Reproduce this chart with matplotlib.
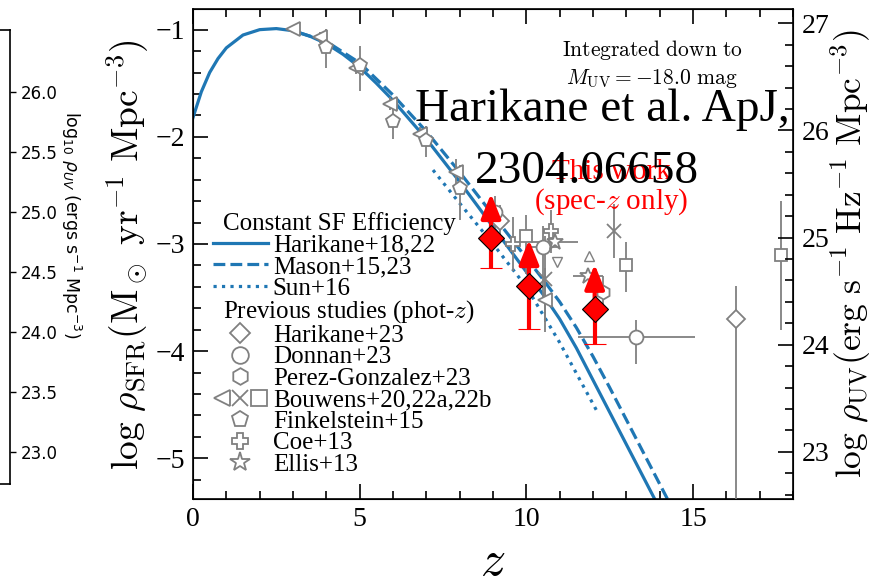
import numpy as np
import matplotlib
matplotlib.use("Agg")
import matplotlib.pyplot as plt
from matplotlib.lines import Line2D
from matplotlib.legend_handler import HandlerTuple

plt.rcParams['font.family'] = ['Liberation Serif', 'DejaVu Serif']
plt.rcParams['mathtext.fontset'] = 'cm'

# constant SF efficiency models
z_har = [0, 0.25, 0.5, 0.75, 1, 1.5, 2, 2.5, 3, 3.5, 4, 4.5, 5, 5.5, 6, 6.5, 7, 7.5,
         8, 8.5, 9, 9.5, 10, 10.5, 11, 11.5, 12, 12.5, 13, 13.5, 14]
sfr_har = [-1.82, -1.58, -1.40, -1.27, -1.17, -1.05, -1.00, -0.99, -1.01, -1.06, -1.13,
           -1.23, -1.35, -1.50, -1.66, -1.84, -2.02, -2.22, -2.42, -2.63, -2.84, -3.05,
           -3.26, -3.47, -3.70, -3.97, -4.27, -4.57, -4.87, -5.17, -5.47]
z_mas = [3.2, 4, 5, 6, 7, 8, 9, 10, 10.5, 11, 11.5, 12, 12.5, 13, 13.5, 14, 14.5]
sfr_mas = [-1.03, -1.11, -1.31, -1.61, -1.95, -2.33, -2.73, -3.13, -3.33, -3.54, -3.78,
           -4.05, -4.34, -4.64, -4.94, -5.24, -5.54]
z_sun = [7.2, 8, 9, 10, 11, 12.1]
sfr_sun = [-2.31, -2.62, -3.00, -3.40, -3.92, -4.55]

# previous studies (phot-z)
z_h23 = [9.2, 16.3];  s_h23 = [-2.79, -3.70]
lo_h23 = [0.15, 3.0]; hi_h23 = [0.15, 0.31]

z_don = [9.05, 10.5, 13.3]; s_don = [-2.70, -3.03, -3.87]
xe_don = [0.25, 0.5, 1.75]
lo_don = [0.2, 0.5, 0.25]; hi_don = [0.15, 0.2, 0.16]

z_pg = [12.3]; s_pg = [-3.45]; e_pg = [0.15]

z_btri = [3.0, 3.8, 4.9, 5.9, 6.8, 7.9, 10.57]
s_btri = [-0.99, -1.07, -1.36, -1.69, -1.97, -2.33, -3.52]
e_btri = [0.03, 0.05, 0.05, 0.06, 0.06, 0.12, 0.3]
z_bx = [10.57, 12.64]; s_bx = [-3.33, -2.88]; e_bx = [0.4, 0.25]
z_bsq = [10.0, 13.0, 17.65]; s_bsq = [-2.93, -3.20, -3.10]
lo_bsq = [0.35, 0.25, 0.7]; hi_bsq = [0.2, 0.22, 0.5]

z_fin = [4, 5, 6, 7, 8]; s_fin = [-1.16, -1.33, -1.85, -2.03, -2.48]
lo_fin = [0.2, 0.24, 0.17, 0.16, 0.3]; hi_fin = [0.17, 0.18, 0.17, 0.13, 0.22]

z_coe = [9.6, 10.75]; s_coe = [-3.0, -2.88]; xe_coe = [0.15, 0.15]; e_coe = [0.25, 0.2]

z_ell = [10.85, 11.85]; s_ell = [-2.98, -3.30]; xe_ell = [0.7, 0.45]
z_lim = [10.92, 11.88]; s_lim = [-3.17, -3.11]

# this work (spec-z only)
z_tw = [8.94, 10.08, 12.05]
s_tw = [-2.94, -3.39, -3.61]
lo_tw = [0.28, 0.40, 0.32]
up_tw = [0.41, 0.43, 0.42]

uv_offset = 27.94

fig = plt.figure(figsize=(8.72, 5.87), dpi=100)
ax = fig.add_axes([193/872, 1-499/587, 600/872, 489.7/587])

l_har, = ax.plot(z_har, sfr_har, color='#1f77b4', lw=2.3, zorder=2)
l_mas, = ax.plot(z_mas, sfr_mas, color='#1f77b4', lw=2.3, ls='--', zorder=2)
l_sun, = ax.plot(z_sun, sfr_sun, color='#1f77b4', lw=2.3, ls=':', zorder=2)

g = 'gray'
pk = dict(color=g, mfc='white', mec=g, mew=1.3, elinewidth=1.3, capsize=0, ls='none', zorder=4)
ax.errorbar(z_h23, s_h23, yerr=[lo_h23, hi_h23], fmt='D', ms=9, **pk)
ax.errorbar(z_don, s_don, xerr=xe_don, yerr=[lo_don, hi_don], fmt='o', ms=10, **pk)
ax.errorbar(z_pg, s_pg, yerr=e_pg, fmt='h', ms=10, **pk)
ax.errorbar(z_btri, s_btri, yerr=e_btri, fmt='<', ms=10, **pk)
ax.errorbar(z_bx, s_bx, yerr=e_bx, fmt='x', ms=10, **pk)
ax.errorbar(z_bsq, s_bsq, yerr=[lo_bsq, hi_bsq], fmt='s', ms=9, **pk)
ax.errorbar(z_fin, s_fin, yerr=[lo_fin, hi_fin], fmt='p', ms=10, **pk)
ax.errorbar(z_coe, s_coe, xerr=xe_coe, yerr=e_coe, fmt='P', ms=10, **pk)
ax.errorbar(z_ell, s_ell, xerr=xe_ell, fmt='*', ms=12, **pk)
ax.plot(z_lim[:1], s_lim[:1], 'v', color=g, mfc='white', ms=7, zorder=4)
ax.plot(z_lim[1:], s_lim[1:], '^', color=g, mfc='white', ms=7, zorder=4)

for zz, ss, uu in zip(z_tw, s_tw, up_tw):
    ax.annotate('', xy=(zz, ss + uu), xytext=(zz, ss), zorder=6,
                arrowprops=dict(arrowstyle='-|>,head_width=0.3,head_length=0.75',
                                color='red', lw=3, mutation_scale=20, shrinkA=0, shrinkB=0))
ax.errorbar(z_tw, s_tw, yerr=[lo_tw, np.zeros(len(z_tw))], fmt='D', ms=13, color='red',
            mfc='red', mec='black', mew=0.8, elinewidth=3, capsize=8, capthick=3,
            ls='none', zorder=7)

ax.set_xlim(0, 18)
ax.set_ylim(-5.38, -0.81)
ax.set_xticks([0, 5, 10, 15])
ax.set_xticks(np.arange(0, 19, 1), minor=True)
ax.set_yticks([-5, -4, -3, -2, -1])
ax.set_yticks(np.arange(-5.2, -0.8, 0.2), minor=True)
ax.tick_params(which='both', direction='in', top=True, right=False, labelsize=20, pad=6)
ax.tick_params(which='major', length=11, width=1.2)
ax.tick_params(which='minor', length=6, width=1.2)
for sp in ax.spines.values():
    sp.set_linewidth(1.2)
ax.set_xlabel(r'$z$', fontsize=36, labelpad=5)
ax.set_ylabel(r'$\log\,\rho_{\rm SFR}({\rm M_\odot\ yr^{-1}\ Mpc^{-3}})$', fontsize=27, labelpad=3)

ax2 = ax.twinx()
ax2.set_ylim(-5.38 + uv_offset, -0.81 + uv_offset)
ax2.set_yticks([23, 24, 25, 26, 27])
ax2.set_yticks(np.arange(22.6, 27.1, 0.2), minor=True)
ax2.tick_params(which='both', direction='in', labelsize=20, pad=6)
ax2.tick_params(which='major', length=11, width=1.2)
ax2.tick_params(which='minor', length=6, width=1.2)
ax2.set_ylabel(r'$\log\,\rho_{\rm UV}({\rm erg\ s^{-1}\ Hz^{-1}\ Mpc^{-3}})$', fontsize=25.5, labelpad=0)

blank = Line2D([], [], ls='none')
mk = dict(ls='none', color=g, mfc='white', mew=1.3)
handles = [blank, l_har, l_mas, l_sun, blank,
           Line2D([], [], marker='D', ms=10, **mk),
           Line2D([], [], marker='o', ms=12, **mk),
           Line2D([], [], marker='h', ms=12, **mk),
           (Line2D([], [], marker='<', ms=12, **mk), Line2D([], [], marker='x', ms=12, **mk),
            Line2D([], [], marker='s', ms=11, **mk)),
           Line2D([], [], marker='p', ms=12, **mk),
           Line2D([], [], marker='P', ms=12, **mk),
           Line2D([], [], marker='*', ms=15, **mk)]
labels = ['Constant SF Efficiency', 'Harikane+18,22', 'Mason+15,23', 'Sun+16',
          r'Previous studies (phot-$z$)', 'Harikane+23', 'Donnan+23', 'Perez-Gonzalez+23',
          'Bouwens+20,22a,22b', 'Finkelstein+15', 'Coe+13', 'Ellis+13']
leg = ax.legend(handles, labels, loc='upper left', bbox_to_anchor=(0.033, 0.586),
                frameon=False, fontsize=18, handlelength=2.2, handletextpad=0.2,
                labelspacing=-0.04, borderpad=0, borderaxespad=0,
                handler_map={tuple: HandlerTuple(ndivide=None, pad=0)})
for i in (0, 4):
    leg.get_texts()[i].set_x(-50)

ax.text(652/872, 1-64/587, '$\\mathrm{Integrated\\ down\\ to}$\n$M_{\\rm UV}=-18.0\\ \\mathrm{mag}$',
        transform=fig.transFigure, ha='center', va='center', fontsize=15.5, linespacing=1.3)
fig.text(611/872, 1-188/587, 'This work\n' + r'(spec-$z$ only)', color='red', ha='center',
         va='center', fontsize=21, linespacing=1.05)
fig.text(415/872, 1-110/587, 'Harikane et al. ApJ,', ha='left', va='center', fontsize=34)
fig.text(587/872, 1-172/587, '2304.06658', ha='center', va='center', fontsize=34)

# cropped neighbouring panel on the far left
axl = fig.add_axes([-0.3, 1-484/587, 0.3 + 10/872, 454/587])
axl.set_ylim(22.733, 26.517)
axl.set_xticks([])
axl.yaxis.tick_right()
axl.set_yticks([23.0, 23.5, 24.0, 24.5, 25.0, 25.5, 26.0])
axl.set_yticklabels(['23.0', '23.5', '24.0', '24.5', '25.0', '25.5', '26.0'],
                    family='DejaVu Sans', fontsize=12)
axl.tick_params(axis='y', length=4.5, width=1)
for sp in axl.spines.values():
    sp.set_linewidth(1.2)
fig.text(71/872, 1-225/587, r'log$_{10}$ $\rho_{UV}$ (ergs s$^{-1}$ Mpc$^{-3}$)',
         rotation=270, ha='center', va='center', fontsize=12.5,
         family='DejaVu Sans', math_fontfamily='dejavusans')

fig.savefig('out.png', dpi=100)
